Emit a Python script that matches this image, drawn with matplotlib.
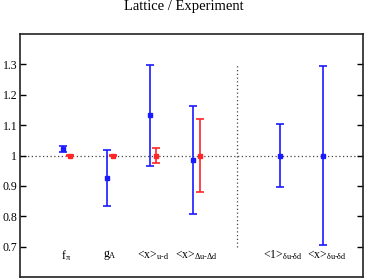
import numpy as np
import matplotlib
matplotlib.use("Agg")
import matplotlib.pyplot as plt

plt.rcParams["font.family"] = ["Liberation Serif", "DejaVu Serif"]
plt.rcParams["mathtext.fontset"] = "custom"
plt.rcParams["mathtext.rm"] = "Liberation Serif"
plt.rcParams["mathtext.it"] = "Liberation Serif"

# lattice / experiment ratios
labels = [r"$\text{f}_{\text{π}}$", r"$\text{g}_{\text{A}}$",
          r"$\text{<x>}_{\text{u-d}}$", r"$\text{<x>}_{\text{Δu-Δd}}$",
          r"$\text{<1>}_{\text{δu-δd}}$", r"$\text{<x>}_{\text{δu-δd}}$"]
pos = [1, 2, 3, 4, 6, 7]

blue_val = [1.021, 0.926, 1.132, 0.985, 1.0, 1.0]
blue_err = [0.010, 0.092, 0.166, 0.179, 0.103, 0.295]

# experiment (only first four have a red point)
red_pos = [1, 2, 3, 4]
red_val = [1.0, 1.0, 1.0, 1.0]
red_err = [0.002, 0.002, 0.025, 0.120]

yticks = [0.7, 0.8, 0.9, 1.0, 1.1, 1.2, 1.3]
ytick_labels = ["0.7", "0.8", "0.9", "1", "1.1", "1.2", "1.3"]

fig = plt.figure(figsize=(3.68, 2.79), dpi=100)
ax = fig.add_axes([20 / 368, 2 / 279, 343 / 368, 243 / 279])

dx = 0.15
ax.errorbar(pos, blue_val, yerr=blue_err, fmt="s", color="#1a1aff",
            ms=2.8, lw=1.2, capsize=2.6, capthick=1.2)
ax.errorbar(np.array(red_pos) + dx, red_val, yerr=red_err, fmt="s",
            color="#ff2626", ms=2.8, lw=1.2, capsize=2.6, capthick=1.2)

ax.axhline(1.0, color="#444444", ls=(0, (1, 2)), lw=0.9, zorder=0)
ax.plot([5, 5], [0.7, 1.3], color="#444444", ls=(0, (1, 2)), lw=0.9)

for p, lab in zip(pos, labels):
    ax.text(p + dx / 2, 0.672, lab, ha="center", va="center", fontsize=8.5)

ax.set_xlim(0, 7.92)
ax.set_ylim(0.6, 1.4)
ax.set_xticks([])
ax.set_yticks(yticks)
ax.set_yticklabels(ytick_labels)
ax.tick_params(axis="y", direction="in", length=4.5, width=1, labelsize=8.5,
               right=True, pad=2)
for s in ax.spines.values():
    s.set_linewidth(1.2)
    s.set_color("#222222")

fig.suptitle("Lattice / Experiment", fontsize=10.5, y=1.0)

fig.savefig("out.png", dpi=100)
